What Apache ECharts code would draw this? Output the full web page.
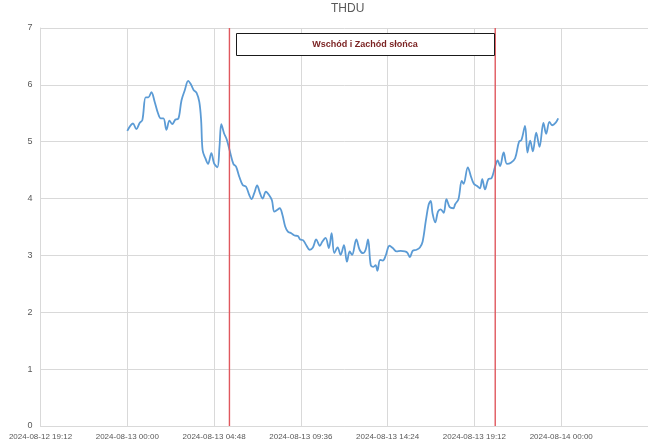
<!DOCTYPE html>
<html>
<head>
<meta charset="utf-8">
<script src="https://cdn.jsdelivr.net/npm/echarts@6/dist/echarts.min.js"></script>
<style>html,body{margin:0;padding:0;background:#fff;}#c{width:648px;height:443px;}</style>
</head>
<body>
<div id="c"></div>
<script>
// minutes since 2024-08-13 00:00
const timesMin = [0,19,30,41,50,61,70,80,91,102,111,120,130,140,149,160,169,180,191,202,211,220,230,239,245,250,259,268,279,288,299,306,312,321,330,341,352,
361,372,383,394,405,412,421,431,440,449,460,471,480,488,497,506,515,524,533,544,555,566,574,583,594,605,616,627,639,647,658,669,678,687,698,708,719,
729,738,746,760,771,782,791,799,808,817,824,830,839,848,857,870,881,894,907,921,929,938,947,960,971,980,991,1000,1007,1013,1022,1031,1040,1050,1059,1070,1082,
1088,1099,1110,1116,1130,1141,1150,1161,1170,1178,1187,1198,1209,1220,1229,1237,1249,1260,1273,1287,1300,1308,1320,1328,1337,1346,1357,1368,1381,1390,1401,1410,1421,1430];
const thduValues = [5.19,5.32,5.22,5.33,5.38,5.78,5.78,5.87,5.70,5.50,5.41,5.41,5.21,5.37,5.31,5.39,5.40,5.73,5.91,6.07,6.01,5.91,5.86,5.70,5.38,4.85,4.71,4.61,4.80,4.62,4.55,4.91,5.31,5.15,5.04,4.82,4.61,
4.56,4.38,4.24,4.21,4.06,3.99,4.09,4.23,4.10,4.00,4.12,4.06,3.97,3.77,3.80,3.83,3.71,3.51,3.42,3.39,3.35,3.34,3.28,3.27,3.18,3.10,3.14,3.28,3.17,3.24,3.31,3.13,3.39,3.04,3.14,3.01,3.18,
2.89,3.07,3.01,3.28,3.10,3.04,3.10,3.28,2.83,2.80,2.83,2.73,2.92,2.91,2.99,3.17,3.13,3.07,3.08,3.07,3.05,2.97,3.08,3.10,3.14,3.24,3.62,3.89,3.96,3.74,3.58,3.77,3.81,3.75,3.99,3.85,3.83,
3.90,3.99,4.31,4.26,4.55,4.38,4.26,4.22,4.18,4.34,4.16,4.34,4.36,4.55,4.67,4.57,4.81,4.61,4.63,4.71,5.00,5.03,5.28,4.81,5.02,4.83,5.16,4.91,5.33,5.14,5.35,5.29,5.33,5.41];
// sunrise / sunset, minutes since 2024-08-13 00:00
const sunEventsMin = [339, 1221];
const yTicks = [0,1,2,3,4,5,6,7];
const titleText = 'THDU';
const boxText = 'Wschód i Zachód słońca';

// x axis in hours since 2024-08-12 00:00
const dayOffsetH = 24;
const seriesData = timesMin.map((m, i) => [dayOffsetH + m / 60, thduValues[i]]);
const yMin = yTicks[0], yMax = yTicks[yTicks.length - 1];
const pad = n => (n < 10 ? '0' : '') + n;
function fmtHours(h) {
  const tot = Math.round(h * 60);
  const day = 12 + Math.floor(tot / 1440);
  const mm = tot % 1440;
  return '2024-08-' + pad(day) + ' ' + pad(Math.floor(mm / 60)) + ':' + pad(mm % 60);
}

const sunColor = '#E0585E';
const sunSeries = sunEventsMin.map(m => ({
  type: 'line', data: [[dayOffsetH + m / 60, yMin], [dayOffsetH + m / 60, yMax]],
  showSymbol: false, silent: true, z: 3, color: sunColor,
  itemStyle: {color: sunColor},
  lineStyle: {color: sunColor, width: 1.4, opacity: 1}
}));

const chart = echarts.init(document.getElementById('c'), null, {renderer: 'canvas'});
chart.setOption({
  animation: false,
  backgroundColor: '#ffffff',
  grid: {left: 40.5, right: -2, top: 28, bottom: 17, containLabel: false},
  xAxis: {
    type: 'value', min: 19.2, max: 52.8, interval: 4.8,
    axisLine: {show: true, lineStyle: {color: '#D9D9D9', width: 1}},
    axisTick: {show: false},
    splitLine: {show: true, lineStyle: {color: '#D9D9D9', width: 1}},
    axisLabel: {
      formatter: fmtHours, showMaxLabel: false, color: '#595959',
      fontFamily: 'Liberation Sans', fontSize: 8, margin: 7
    }
  },
  yAxis: {
    type: 'value', min: yMin, max: yMax, interval: 1,
    axisLine: {show: true, lineStyle: {color: '#D9D9D9', width: 1}},
    axisTick: {show: false},
    splitLine: {show: true, lineStyle: {color: '#D9D9D9', width: 1}},
    axisLabel: {color: '#595959', fontFamily: 'Liberation Sans', fontSize: 9, margin: 8}
  },
  series: [{
    type: 'line', data: seriesData, smooth: 0.35, showSymbol: false, z: 2,
    color: '#5B9BD5',
    lineStyle: {color: '#5B9BD5', width: 1.8}
  }].concat(sunSeries),
  graphic: [
    {type: 'text', left: 345 - 14, top: 3, style: {text: titleText, fill: '#595959', font: '12px "Liberation Sans"'}},
    {type: 'rect', shape: {x: 236.5, y: 33.5, width: 258, height: 22}, style: {fill: '#ffffff', stroke: '#1a1a1a', lineWidth: 1}, z: 100},
    {type: 'text', x: 365, y: 44.5, style: {text: boxText, fill: '#7B2323', font: 'bold 9px "Liberation Sans"', textAlign: 'center', textVerticalAlign: 'middle'}, z: 101}
  ]
});
</script>
</body>
</html>
